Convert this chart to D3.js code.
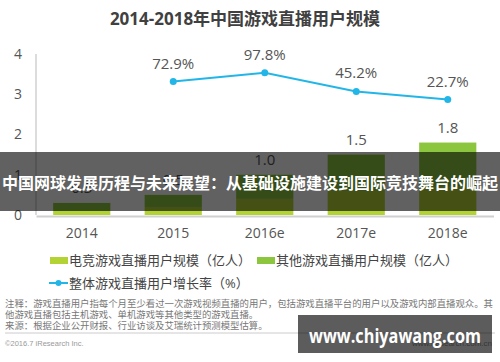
<!DOCTYPE html>
<html><head><meta charset="utf-8">
<script src="https://cdn.jsdelivr.net/npm/d3@7/dist/d3.min.js"></script>
<style>
html,body{margin:0;padding:0;background:#fff;}
svg{display:block;font-family:"Open Sans","Noto Sans CJK SC",sans-serif;}
</style></head>
<body><svg id="c" width="500" height="362"></svg>
<script>
const years = ["2014","2015","2016e","2017e","2018e"];
const esports = [0.1, 0.2, 0.4, 0.6, 0.7];
const others  = [0.2, 0.3, 0.6, 0.9, 1.1];
const totalLabels = ["0.3","0.5","1.0","1.5","1.8"];
const growth = [null, 72.9, 97.8, 45.2, 22.7];
const yTicks = [0,1,2,3,4];
const legendNames = ["电竞游戏直播用户规模（亿人）","其他游戏直播用户规模（亿人）","整体游戏直播用户增长率（%）"];

const svg = d3.select("#c");
const cLime = "#b3d335", cGreen = "#8cc63f", cLine = "#22b6e8";

svg.append("text").attr("x",245).attr("y",25).attr("text-anchor","middle")
  .attr("font-size",17).attr("font-weight","bold").attr("fill","#404040")
  .text("2014-2018年中国游戏直播用户规模");

const x = d3.scaleBand().domain(years).range([36,493.5]).paddingInner(0.375).paddingOuter(0.1875);
const y = d3.scaleLinear().domain([0,4]).range([215,54]);
const y2 = d3.scaleLinear().domain([-300,150]).range([215,54]);

// axes
const yAx = svg.append("g").attr("transform","translate(36,0)")
  .call(d3.axisLeft(y).tickValues(yTicks).tickSize(0).tickPadding(14).tickFormat(d3.format("d")));
yAx.select(".domain").remove();
yAx.selectAll("text").attr("font-size",14).attr("fill","#555").attr("font-family","Open Sans");
svg.append("line").attr("x1",36).attr("x2",36).attr("y1",y(4)).attr("y2",y(0)).attr("stroke","#d0d0d0").attr("stroke-width",1.5);

// bars
const stack = years.map((yr,i)=>({yr, e:esports[i], o:others[i]}));
svg.append("g").selectAll("rect").data(stack).join("rect")
  .attr("x",d=>x(d.yr)).attr("width",x.bandwidth())
  .attr("y",d=>y(d.e)).attr("height",d=>y(0)-y(d.e)).attr("fill",cLime);
svg.append("g").selectAll("rect").data(stack).join("rect")
  .attr("x",d=>x(d.yr)).attr("width",x.bandwidth())
  .attr("y",d=>y(d.e+d.o)).attr("height",d=>y(d.e)-y(d.e+d.o)).attr("fill",cGreen);
svg.append("g").selectAll("text").data(stack).join("text")
  .attr("x",d=>x(d.yr)+x.bandwidth()/2).attr("y",d=>y(d.e+d.o)-10)
  .attr("text-anchor","middle").attr("font-size",15).attr("fill","#555")
  .text((d,i)=>totalLabels[i]);

const xAx = svg.append("g").attr("transform","translate(0,216)")
  .call(d3.axisBottom(x).tickSize(0).tickPadding(12));
xAx.select(".domain").attr("stroke","#d0d0d0").attr("stroke-width",2);
xAx.selectAll("text").attr("font-size",14).attr("fill","#555").attr("font-family","Open Sans");

// line
const pts = years.map((yr,i)=>({yr, v:growth[i]})).filter(d=>d.v!==null);
const cx = d=>x(d.yr)+x.bandwidth()/2;
svg.append("path").datum(pts).attr("fill","none").attr("stroke",cLine).attr("stroke-width",2)
  .attr("d",d3.line().x(cx).y(d=>y2(d.v)));
svg.append("g").selectAll("circle").data(pts).join("circle")
  .attr("cx",cx).attr("cy",d=>y2(d.v)).attr("r",3.5).attr("fill",cLine);
svg.append("g").selectAll("text").data(pts).join("text")
  .attr("x",cx).attr("y",d=>y2(d.v)-13).attr("text-anchor","middle")
  .attr("font-size",15).attr("fill","#555").text(d=>d.v.toFixed(1)+"%");

// legend
const lg = svg.append("g").attr("font-size",13).attr("fill","#444");
lg.append("rect").attr("x",50).attr("y",257).attr("width",18).attr("height",7).attr("fill",cLime);
lg.append("text").attr("x",69).attr("y",265).text(legendNames[0]);
lg.append("rect").attr("x",257).attr("y",257).attr("width",18).attr("height",7).attr("fill",cGreen);
lg.append("text").attr("x",276).attr("y",265).text(legendNames[1]);
lg.append("line").attr("x1",49).attr("x2",68).attr("y1",283).attr("y2",283).attr("stroke",cLine).attr("stroke-width",2);
lg.append("circle").attr("cx",58.5).attr("cy",283).attr("r",3).attr("fill",cLine);
lg.append("text").attr("x",69).attr("y",288).text(legendNames[2]);

// notes
const notes = ["注释：游戏直播用户指每个月至少看过一次游戏视频直播的用户，包括游戏直播平台的用户以及游戏内部直播观众。其",
  "他游戏直播包括主机游戏、单机游戏等其他类型的游戏直播。",
  "来源：根据企业公开财报、行业访谈及艾瑞统计预测模型估算。"];
const nt = svg.append("g").attr("font-size",9.4).attr("fill","#777");
nt.append("text").attr("x",5).attr("y",306.5).attr("textLength",488).attr("lengthAdjust","spacingAndGlyphs").text(notes[0]);
nt.append("text").attr("x",5).attr("y",317.5).text(notes[1]);
nt.append("text").attr("x",5).attr("y",328.5).text(notes[2]);
svg.append("line").attr("x1",5).attr("x2",495).attr("y1",333).attr("y2",333).attr("stroke","#ccc").attr("stroke-width",1);
svg.append("text").attr("x",5).attr("y",345.5).attr("font-size",7.5).attr("fill","#999")
  .attr("font-family","Liberation Sans").text("©2016.7 iResearch Inc.");
svg.append("text").attr("x",492).attr("y",345.5).attr("text-anchor","end").attr("font-size",8).attr("fill","#999")
  .attr("font-family","Liberation Sans").text("www.iresearch.com.cn");

// overlay banner
svg.append("rect").attr("x",0).attr("y",152).attr("width",500).attr("height",59).attr("fill","#000").attr("fill-opacity",0.62);
svg.append("text").attr("x",250).attr("y",189).attr("text-anchor","middle").attr("font-size",16).attr("font-weight","bold")
  .attr("fill","#fff").attr("textLength",496).attr("lengthAdjust","spacingAndGlyphs")
  .text("中国网球发展历程与未来展望：从基础设施建设到国际竞技舞台的崛起");

// watermark
svg.append("rect").attr("x",298).attr("y",315).attr("width",194).attr("height",38).attr("fill","#000").attr("fill-opacity",0.64);
svg.append("text").attr("x",395).attr("y",343).attr("text-anchor","middle").attr("font-size",19).attr("font-weight","bold")
  .attr("fill","#fff").attr("textLength",172).attr("lengthAdjust","spacingAndGlyphs").text("www.chiyawang.com");
</script></body></html>
